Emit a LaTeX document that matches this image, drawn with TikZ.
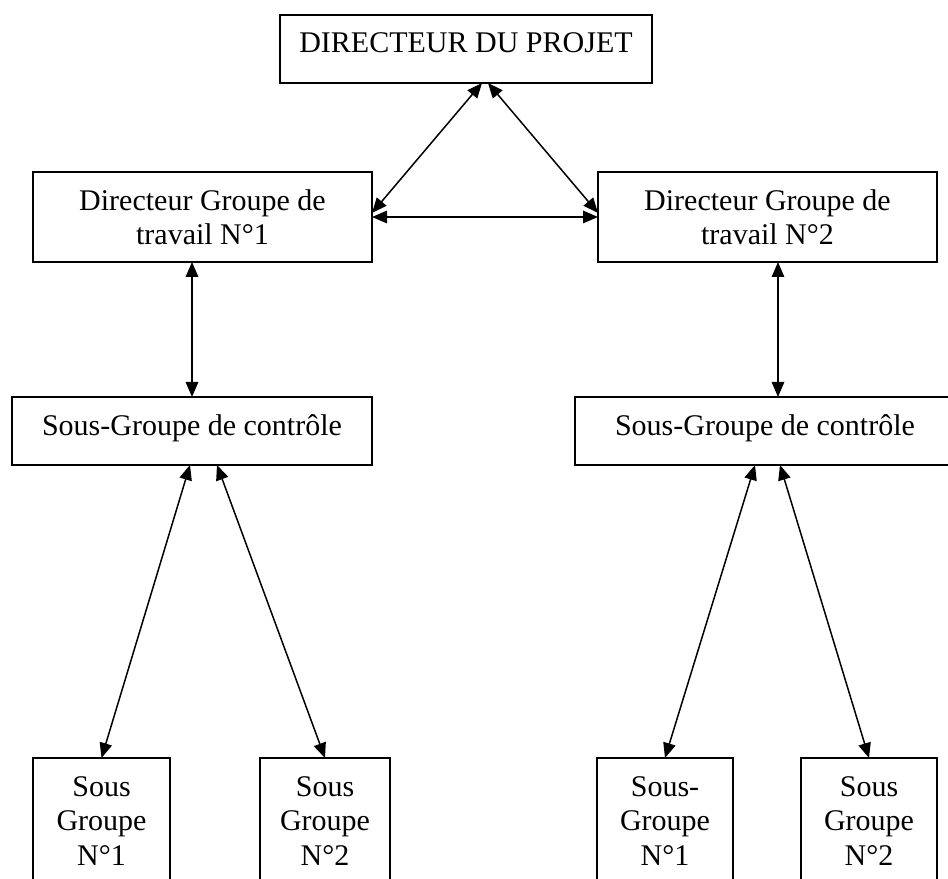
\documentclass[tikz,border=0pt]{standalone}
\usepackage{fontspec}
\setmainfont{Liberation Serif}
\usetikzlibrary{arrows.meta,calc}
\begin{document}
\begin{tikzpicture}[x=0.4pt,y=-0.4pt,
  box/.style 2 args={draw, line width=0.75pt, inner sep=0pt, outer sep=0pt,
    minimum width=#1*0.4pt, minimum height=#2*0.4pt},
  txt/.style={inner sep=0pt, outer sep=0pt, anchor=base, align=center,
    font=\fontsize{12}{13.8}\selectfont},
  link/.style={line width=0.6pt, {Triangle[length=6pt,width=5pt]}-{Triangle[length=6pt,width=5pt]}}]
\useasboundingbox (0,0) rectangle (948,879);
\clip (0,0) rectangle (948,879);
\fill[white] (0,0) rectangle (948,879);
% boxes
\node[box={372}{68}] (top) at (466,49) {};
\node[box={339}{90}] (dg1) at (202.5,217) {};
\node[box={339}{90}] (dg2) at (767.5,217) {};
\node[box={360}{68}] (sgc1) at (192,431) {};
\node[box={380}{68}] (sgc2) at (765,431) {};
\node[box={137}{142}] (sg1) at (101.5,829) {};
\node[box={130}{142}] (sg2) at (325,829) {};
\node[box={136}{142}] (sg3) at (665,829) {};
\node[box={136}{142}] (sg4) at (869,829) {};
% texts (base anchor = baseline of the last line)
\node[txt] (toptxt) at (466,53) {DIRECTEUR DU PROJET};
\node[txt] (dg1txt) at (202.5,245) {Directeur Groupe de\\travail N°1};
\node[txt] (dg2txt) at (767.5,245) {Directeur Groupe de\\travail N°2};
\node[txt] (sgc1txt) at (192,435) {Sous-Groupe de contrôle};
\node[txt] (sgc2txt) at (765,435) {Sous-Groupe de contrôle};
\node[txt] (sg1txt) at (101.5,865) {Sous\\Groupe\\N°1};
\node[txt] (sg2txt) at (325,865) {Sous\\Groupe\\N°2};
\node[txt] (sg3txt) at (665,865) {Sous-\\Groupe\\N°1};
\node[txt] (sg4txt) at (869,865) {Sous\\Groupe\\N°2};
% connectors
\draw[link] ($(top.south west)+(202,0)$) -- ($(dg1.east)+(0,-4)$);
\draw[link] ($(top.south west)+(208,0)$) -- ($(dg2.west)+(0,-4)$);
\draw[link] (dg1.east) -- (dg2.west);
\draw[link] ($(dg1.south west)+(159,0)$) -- (sgc1.north);
\draw[link] ($(dg2.south west)+(180,0)$) -- ($(sgc2.north west)+(203,0)$);
\draw[link] ($(sgc1.south west)+(178,0)$) -- (sg1.north);
\draw[link] ($(sgc1.south west)+(205,0)$) -- (sg2.north);
\draw[link] ($(sgc2.south west)+(180,0)$) -- (sg3.north);
\draw[link] ($(sgc2.south west)+(205,0)$) -- (sg4.north);
\end{tikzpicture}
\end{document}
